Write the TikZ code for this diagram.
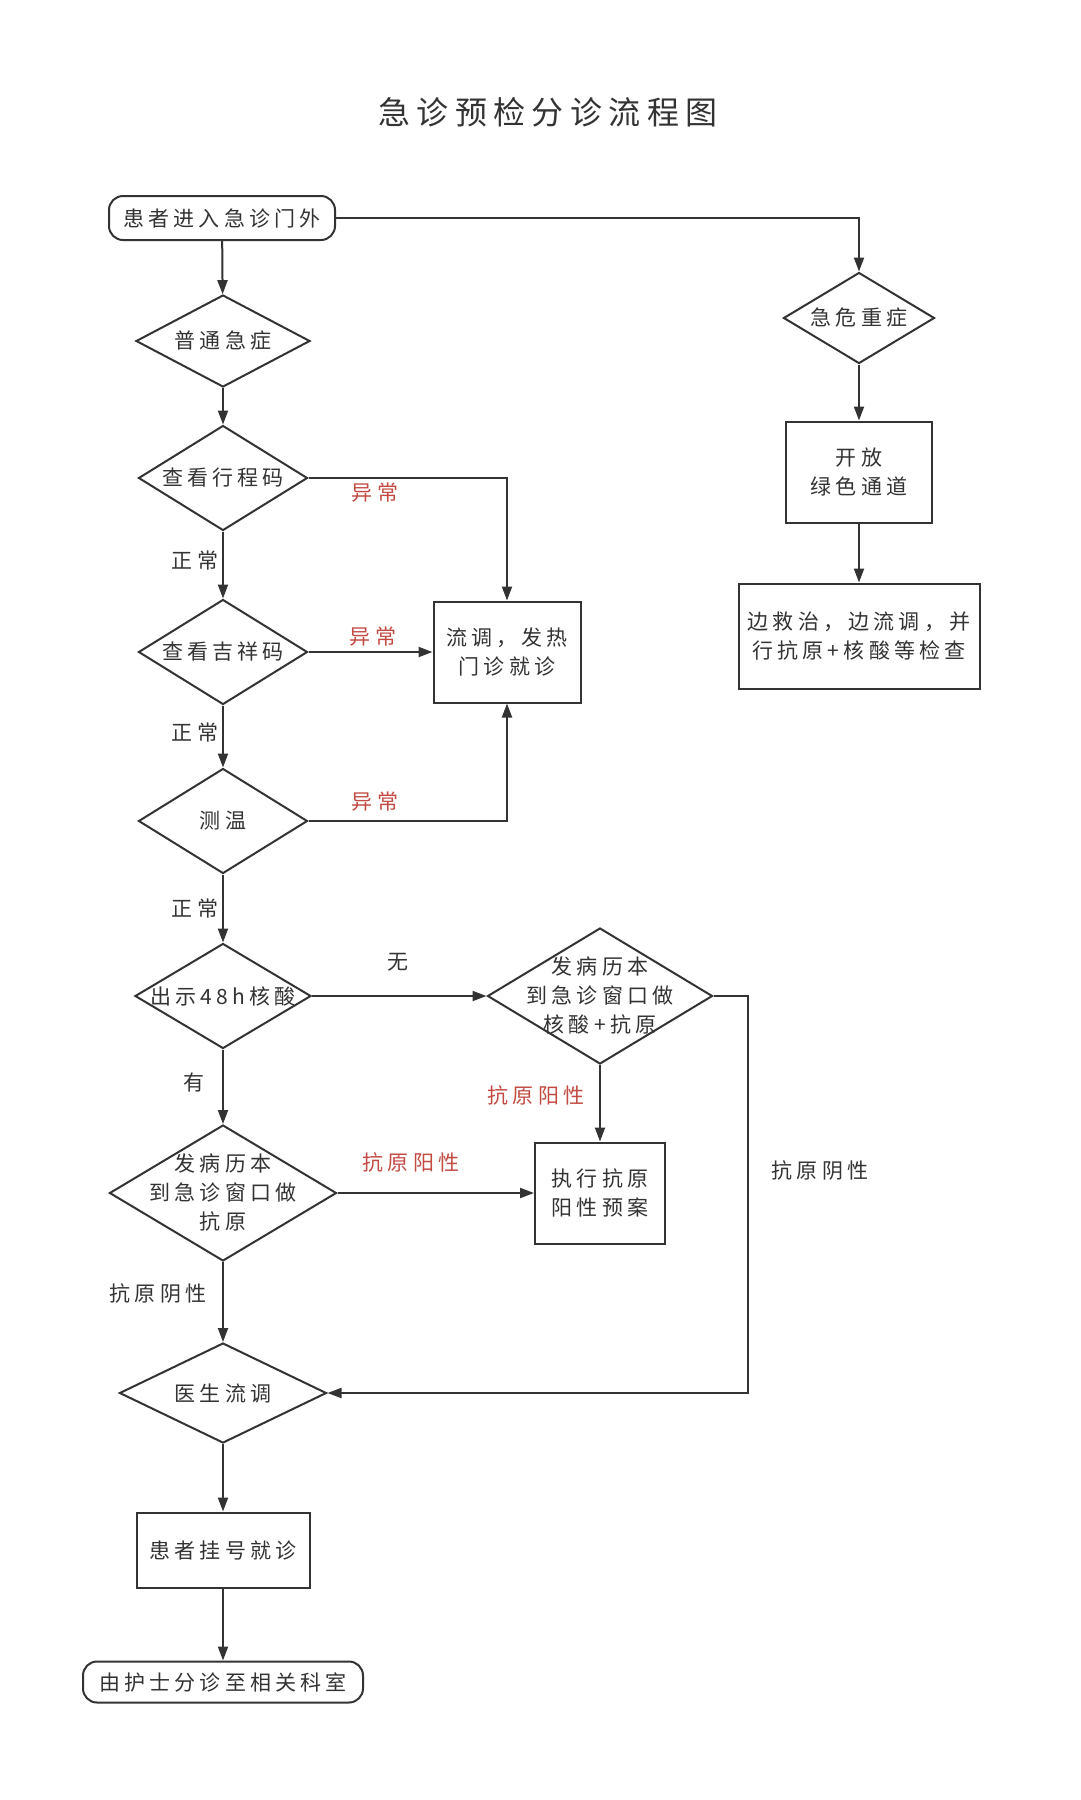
\documentclass[tikz,border=0pt]{standalone}
\usepackage{fontspec}
\setmainfont{Noto Sans CJK SC}[LetterSpace=20]
\usetikzlibrary{arrows.meta, shapes.geometric}
\definecolor{ink}{HTML}{333333}
\definecolor{redtxt}{HTML}{C24A42}

\begin{document}
\begin{tikzpicture}[x=1pt, y=-1pt,
  every node/.style={align=center, text=ink, font=\fontsize{21}{29}\selectfont},
  % Decision diamonds (text is set on top)
  dia/.style={diamond, draw=ink, line width=2pt, inner sep=0pt},
  dtxt/.style={inner sep=0pt},
  % Process boxes
  box/.style={rectangle, draw=ink, line width=2pt, inner sep=0pt},
  % Start / end
  term/.style={rectangle, draw=ink, line width=2pt, rounded corners=14pt, inner sep=0pt},
  % Connectors
  flow/.style={draw=ink, line width=2pt, -{Triangle[length=14pt, width=10pt]}},
  % Branch labels
  lab/.style={inner sep=0pt},
  redlab/.style={inner sep=0pt, text=redtxt}
]
\useasboundingbox (0,0) rectangle (1080,1800);

% === Title ===
\node[font=\fontsize{32}{36}\selectfont] (title) at (548,112) {急诊预检分诊流程图};

% === Left column ===
\node[term, minimum width=226pt, minimum height=44pt] (start) at (222,218) {患者进入急诊门外};

\node[dia, minimum width=174pt, minimum height=92pt] (ptjz) at (223,341) {};
\node[dtxt] (ptjzt) at (ptjz) {普通急症};

\node[dia, minimum width=169pt, minimum height=105pt] (xcm) at (223,478) {};
\node[dtxt] (xcmt) at (xcm) {查看行程码};

\node[dia, minimum width=169pt, minimum height=105pt] (jxm) at (223,652) {};
\node[dtxt] (jxmt) at (jxm) {查看吉祥码};

\node[dia, minimum width=169pt, minimum height=105pt] (cw) at (223,821) {};
\node[dtxt] (cwt) at (cw) {测温};

\node[dia, minimum width=176pt, minimum height=105pt] (hs) at (223,996) {};
\node[dtxt] (hst) at (hs) {出示48h核酸};

\node[dia, minimum width=227pt, minimum height=136pt] (kyl) at (223,1193) {};
\node[dtxt] (kylt) at (kyl) {发病历本\\到急诊窗口做\\抗原};

\node[dia, minimum width=207pt, minimum height=100pt] (ysld) at (223,1393) {};
\node[dtxt] (ysldt) at (ysld) {医生流调};

\node[box, minimum width=173pt, minimum height=75pt] (ghjz) at (223,1550) {患者挂号就诊};

\node[term, minimum width=280pt, minimum height=41pt] (fzks) at (223,1682) {由护士分诊至相关科室};

% === Middle ===
\node[box, minimum width=147pt, minimum height=101pt] (frmz) at (507,652) {流调，发热\\门诊就诊};

\node[dia, minimum width=225pt, minimum height=136pt] (kyr) at (600,996) {};
\node[dtxt] (kyrt) at (kyr) {发病历本\\到急诊窗口做\\核酸+抗原};

\node[box, minimum width=130pt, minimum height=101pt] (yxya) at (600,1193) {执行抗原\\阳性预案};

% === Right column ===
\node[dia, minimum width=151pt, minimum height=91pt] (jwzz) at (859,318) {};
\node[dtxt] (jwzzt) at (jwzz) {急危重症};

\node[box, minimum width=146pt, minimum height=101pt] (lstd) at (859,472) {开放\\绿色通道};

\node[box, minimum width=241pt, minimum height=105pt] (bjz) at (859,636) {边救治，边流调，并\\行抗原+核酸等检查};

% Bends
\coordinate (bendr) at (748,996);

% === Connectors ===
\draw[flow] (start) -- (ptjz);
\draw[flow] (ptjz) -- (xcm);
\draw[flow] (xcm) -- (jxm);
\draw[flow] (jxm) -- (cw);
\draw[flow] (cw) -- (hs);
\draw[flow] (hs) -- (kyl);
\draw[flow] (kyl) -- (ysld);
\draw[flow] (ysld) -- (ghjz);
\draw[flow] (ghjz) -- (fzks);

\draw[flow] (start.east) -| (jwzz.north);
\draw[flow] (jwzz) -- (lstd);
\draw[flow] (lstd) -- (bjz);

\draw[flow] (xcm.east) -| (frmz.north);
\draw[flow] (jxm.east) -- (frmz.west);
\draw[flow] (cw.east) -| (frmz.south);

\draw[flow] (hs.east) -- (kyr.west);
\draw[flow] (kyr.south) -- (yxya.north);
\draw[flow] (kyl.east) -- (yxya.west);
\draw[flow] (kyr.east) -- (bendr) |- (ysld.east);

% === Branch labels ===
\node[lab] (zc1) at (195,560) {正常};
\node[lab] (zc2) at (195,732) {正常};
\node[lab] (zc3) at (195,908) {正常};
\node[redlab] (yc1) at (375,493) {异常};
\node[redlab] (yc2) at (373,637) {异常};
\node[redlab] (yc3) at (375,802) {异常};
\node[lab] (wu) at (398,962) {无};
\node[lab] (you) at (194,1082) {有};
\node[redlab] (yx1) at (536,1095) {抗原阳性};
\node[redlab] (yx2) at (411,1162) {抗原阳性};
\node[lab] (yn1) at (158,1293) {抗原阴性};
\node[lab] (yn2) at (820,1170) {抗原阴性};

\end{tikzpicture}
\end{document}
